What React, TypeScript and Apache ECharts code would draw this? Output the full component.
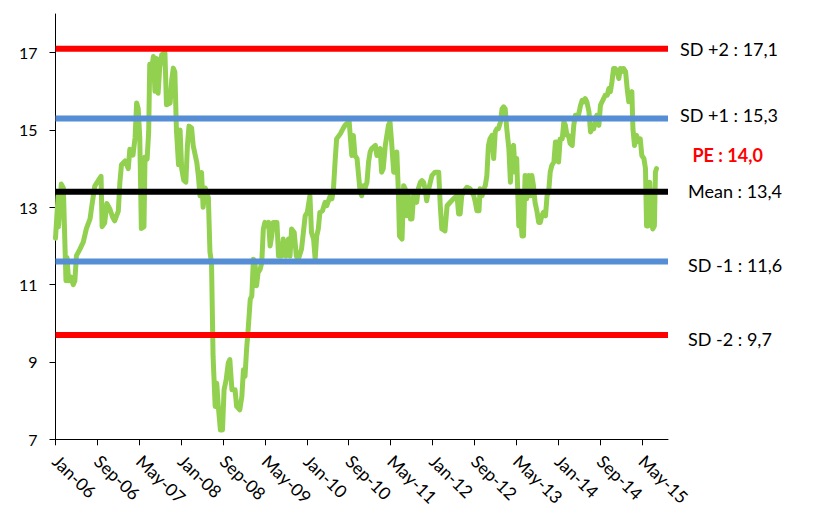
import React, { useEffect, useRef } from 'react';
import * as echarts from 'echarts';

const MONTH_NAMES = ['Jan', 'Feb', 'Mar', 'Apr', 'May', 'Jun', 'Jul', 'Aug', 'Sep', 'Oct', 'Nov', 'Dec'];
const START_YEAR = 2006;
const X_MAX_MONTH = 117;
const xTickMonths = [0, 8, 16, 24, 32, 40, 48, 56, 64, 72, 80, 88, 96, 104, 112];
const yTicks = [7, 9, 11, 13, 15, 17];

// months since Jan-06 (fractional) and PE values
const peMonths = [
  0.0, 0.5, 0.6, 1.1, 1.5, 2.0, 2.2, 2.5, 2.9, 3.4, 3.7, 4.0, 4.6, 5.3, 5.9, 6.6, 6.9, 7.5, 8.2, 8.7,
  8.9, 9.4, 9.8, 10.4, 10.9, 11.3, 12.0, 12.3, 12.6, 13.3, 13.9, 14.2, 14.8, 15.2, 15.5, 15.8, 16.1, 16.4, 16.9, 17.1,
  17.5, 17.8, 18.0, 18.4, 18.7, 19.0, 19.3, 19.6, 19.9, 20.3, 20.9, 21.2, 21.9, 22.2, 22.5, 22.8, 23.1, 23.5, 23.8, 24.1,
  24.5, 24.9, 25.2, 25.5, 26.0, 26.3, 27.0, 27.3, 27.6, 27.9, 28.2, 28.6, 29.2, 29.5,
  29.8, 30.1, 30.5, 30.8, 31.1, 31.5, 31.9, 32.2, 32.6, 33.0, 33.3, 33.7, 34.3, 34.6, 35.2, 35.6, 35.9, 36.2, 36.5, 36.8,
  37.2, 37.5, 37.8, 38.1, 38.4, 38.7, 39.1, 39.4, 39.7, 40.0, 40.3, 40.7, 41.0, 41.3, 41.6, 42.3, 42.6, 43.2, 43.5, 44.0,
  44.5, 44.8, 45.1, 45.6, 46.0, 46.4, 47.0, 47.7, 48.1, 48.6, 48.9, 49.3, 49.6, 49.9, 50.2, 50.5, 51.0, 51.5, 51.8, 52.5,
  52.8, 53.1, 53.4, 53.7, 54.4, 54.9, 55.3, 55.6, 56.1, 56.6, 56.9, 57.2, 57.6, 57.9, 58.2, 58.5, 58.8, 59.1, 59.5, 59.8,
  60.1, 60.4, 61.1, 61.4, 62.0, 62.3, 62.6, 63.0, 63.3, 63.6, 63.9,
  64.2, 64.6, 64.9, 65.2, 65.5, 65.7, 66.2, 66.5, 66.8, 67.1, 67.4, 67.8, 68.1, 68.4, 68.7, 69.0, 69.3, 69.7, 70.0, 70.3,
  70.6, 70.9, 71.3, 71.6, 71.9, 72.5, 73.2, 73.5, 73.8, 74.4, 74.8, 75.4, 76.0, 76.7, 77.0, 77.3, 77.6, 77.9, 78.6, 79.2,
  79.5, 79.9, 80.2, 80.5, 80.9, 81.1, 81.5, 81.8, 82.1, 82.4, 82.7, 83.0, 83.4, 83.7, 84.0, 84.3, 84.6, 85.0, 85.3, 85.6,
  85.9, 86.2, 86.6, 86.9, 87.2, 87.5, 87.8, 88.1, 88.5, 88.7, 88.9, 89.1, 89.4, 89.7,
  90.0, 90.4, 90.7, 91.0, 91.3, 91.6, 92.0, 92.3, 92.6, 92.9, 93.2, 93.6, 93.9, 94.2, 94.5, 94.8, 95.2, 95.5, 95.8, 96.1,
  96.4, 96.8, 97.1, 97.4, 97.7, 98.0, 98.3, 98.7, 99.0, 99.3, 99.6, 99.9, 100.3, 100.6, 100.9, 101.2, 101.5, 101.9, 102.2, 102.5,
  102.8, 103.1, 103.4, 103.8, 104.1, 104.4, 104.7, 105.0, 105.4, 105.7, 106.0, 106.3, 106.6, 106.9, 107.3, 107.6, 107.9, 108.2, 108.5, 108.9,
  109.2, 109.5, 109.8, 110.1, 110.3, 110.6, 111.0, 111.2, 111.5, 111.7, 112.0, 112.4, 112.7, 112.9, 113.2, 113.5, 113.8, 114.1, 114.4, 114.6,
  114.8,
];
const peValues = [
  12.2, 13.3, 12.5, 13.6, 13.5, 11.1, 11.7, 11.1, 11.2, 11.0, 11.1, 11.75, 11.9, 12.1, 12.45, 12.7, 13.0, 13.55, 13.7, 13.8,
  12.5, 12.6, 13.1, 12.95, 12.75, 12.65, 12.9, 13.65, 14.1, 14.2, 14.0, 14.5, 14.35, 14.8, 15.7, 15.55, 14.8, 12.45, 12.5, 14.3,
  14.25, 14.95, 16.7, 16.6, 16.9, 16.0, 16.85, 15.95, 16.6, 16.95, 17.0, 15.65, 15.7, 16.3, 16.6, 16.5, 15.0, 14.1, 15.0, 14.0,
  13.7, 13.65, 14.6, 15.1, 15.05, 14.6, 14.15, 13.8, 13.3, 13.9, 13.0, 13.5, 13.25, 11.85,
  11.57, 9.15, 7.85, 8.45, 7.85, 7.24, 7.24, 8.28, 8.54, 8.97, 9.06, 8.28, 8.28, 7.85, 7.76, 8.11, 8.8, 8.63, 9.32, 9.84,
  10.62, 10.71, 11.66, 11.57, 10.97, 11.31, 11.4, 11.57, 12.44, 12.61, 12.52, 12.61, 12.0, 12.26, 12.61, 12.61, 11.74, 11.74, 12.18, 11.74,
  12.18, 11.74, 12.44, 12.35, 11.74, 11.66, 11.92, 12.78, 12.87, 13.3, 12.35, 12.18, 11.66, 12.26, 12.44, 12.87, 12.91, 13.13, 13.04, 13.3,
  13.22, 13.48, 14.17, 14.77, 14.9, 15.03, 15.12, 15.16, 15.21, 14.34, 14.86, 14.34, 14.26, 13.82, 13.39, 13.3, 13.56, 13.48, 13.65, 14.17,
  14.43, 14.52, 14.6, 14.34, 14.52, 13.91, 14.0, 14.6, 14.86, 15.12, 15.21,
  14.69, 13.91, 13.91, 14.43, 13.39, 12.26, 12.18, 13.56, 13.48, 12.78, 13.3, 12.7, 12.7, 13.3, 13.22, 13.13, 13.48, 13.65, 13.69, 13.65,
  13.48, 13.17, 13.48, 13.65, 13.82, 13.91, 13.91, 13.04, 12.44, 12.39, 13.04, 13.13, 13.22, 13.3, 12.83, 12.83, 13.3, 13.39, 13.52, 13.48,
  13.39, 13.3, 13.13, 12.91, 12.91, 13.48, 13.3, 13.48, 13.56, 13.82, 14.6, 14.77, 14.86, 14.26, 14.95, 15.03, 15.03, 15.21, 15.55, 15.6,
  15.55, 15.03, 14.52, 13.65, 14.52, 14.6, 13.91, 14.26, 12.52, 13.3, 12.75, 12.26, 12.26, 13.82,
  13.22, 13.82, 13.3, 13.82, 13.56, 13.13, 12.87, 12.61, 12.61, 12.78, 12.87, 12.78, 13.3, 13.39, 13.91, 14.08, 14.17, 14.69, 14.69, 14.17,
  14.77, 14.77, 15.21, 15.12, 14.86, 14.86, 14.65, 14.6, 15.12, 15.38, 15.38, 15.38, 15.64, 15.77, 15.73, 15.81, 15.73, 15.47, 14.95, 15.03,
  15.03, 15.21, 15.38, 15.12, 15.64, 15.73, 15.81, 15.9, 15.9, 16.07, 15.99, 16.25, 16.59, 16.59, 16.51, 16.33, 16.59, 16.51, 16.59, 16.51,
  16.07, 15.73, 15.9, 15.99, 15.03, 14.6, 14.86, 14.77, 14.69, 14.77, 14.34, 14.26, 14.0, 12.52, 12.52, 13.65, 12.61, 12.44, 12.52, 13.91,
  14.0,
];

const refNames = ['SD +2', 'SD +1', 'Mean', 'SD -1', 'SD -2'];
const refValues = [17.1, 15.3, 13.4, 11.6, 9.7];
const refColors = ['#FF0000', '#558ED5', '#000000', '#558ED5', '#FF0000'];
const refLabelGap = [12, 12, 20, 20, 20];
const refLabelShift = [0, -3, -1, 4, 4];
const currentPE = 14.0;

const FONT = 'Lato, "Open Sans", sans-serif';
const fmt = (v: number) => v.toFixed(1).replace('.', ',');
const monthLabel = (m: number) => {
  const mm = Math.round(m);
  const y = START_YEAR + Math.floor(mm / 12);
  return MONTH_NAMES[mm % 12] + '-' + String(y % 100).padStart(2, '0');
};

export default function App() {
  const ref = useRef<HTMLDivElement>(null);
  useEffect(() => {
    document.body.style.margin = '0';
    const chart = echarts.init(ref.current!, undefined, { renderer: 'svg' });
    const refSeries = refValues.map((v, i) => ({
      type: 'line',
      name: refNames[i],
      data: [[0, v], [X_MAX_MONTH, v]],
      showSymbol: false,
      symbol: 'none',
      z: 3,
      lineStyle: { color: refColors[i], width: 6, cap: 'butt' },
      silent: true,
      endLabel: {
        show: true,
        formatter: `${refNames[i]} : ${fmt(v)}`,
        color: '#000',
        fontSize: 18,
        fontFamily: FONT,
        distance: refLabelGap[i],
        offset: [0, refLabelShift[i]],
      },
    }));
    chart.setOption({
      animation: false,
      grid: { left: 55.5, right: 158, top: 14, bottom: 90.7, containLabel: false },
      xAxis: {
        type: 'value',
        min: 0,
        max: X_MAX_MONTH,
        splitLine: { show: false },
        axisLine: { show: true, lineStyle: { color: '#000', width: 1 } },
        axisTick: { show: true, customValues: xTickMonths, length: 6, lineStyle: { color: '#000' } },
        axisLabel: {
          customValues: xTickMonths,
          formatter: (v: number) => monthLabel(v),
          rotate: -44,
          margin: 19,
          color: '#000',
          fontSize: 17.5,
          fontFamily: FONT,
        },
      },
      yAxis: {
        type: 'value',
        min: 7,
        max: 18,
        splitLine: { show: false },
        axisLine: { show: true, lineStyle: { color: '#000', width: 1 } },
        axisTick: { show: true, customValues: yTicks, length: 6, lineStyle: { color: '#000' } },
        axisLabel: {
          customValues: yTicks,
          margin: 18,
          color: '#000',
          fontSize: 16,
          fontFamily: FONT,
        },
      },
      series: [
        {
          type: 'line',
          name: 'PE',
          data: peMonths.map((m, i) => [m, peValues[i]]),
          showSymbol: false,
          symbol: 'none',
          z: 2,
          lineStyle: { color: '#92D050', width: 5, cap: 'round', join: 'round' },
          endLabel: {
            show: true,
            formatter: `PE : ${fmt(currentPE)}`,
            color: '#FF0000',
            fontWeight: 'bold',
            fontSize: 18,
            fontFamily: FONT,
            distance: 36,
            offset: [0, -14],
          },
        },
        ...refSeries,
      ],
    });
    return () => chart.dispose();
  }, []);
  return <div ref={ref} style={{ width: 826, height: 530 }} />;
}
